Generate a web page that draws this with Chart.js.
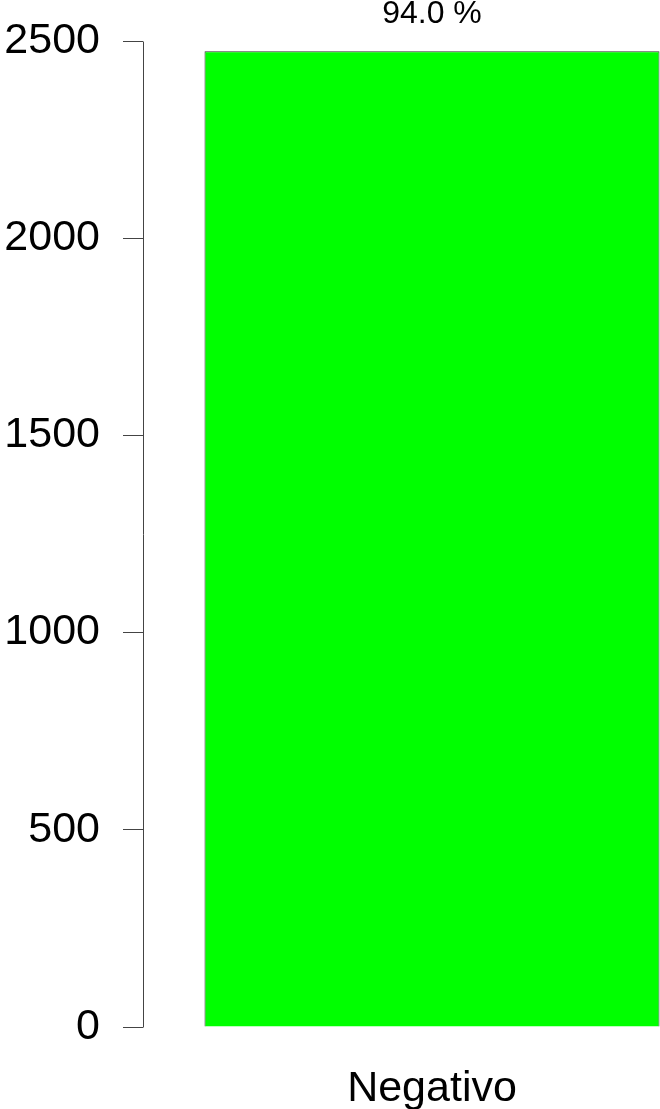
<!DOCTYPE html>
<html>
<head>
<meta charset="utf-8">
<script src="https://cdn.jsdelivr.net/npm/chart.js@4/dist/chart.umd.min.js"></script>
<style>
  html, body { margin: 0; padding: 0; background: #fff; }
  canvas { display: block; }
</style>
</head>
<body>
<canvas id="grafico" width="660" height="1109"></canvas>
<script>
// datos
const categorias = ['Negativo'];
const valores = [2474];
const etiquetasPct = ['94.0 %'];
const yTicks = [0, 500, 1000, 1500, 2000, 2500];

const fuente = "'Liberation Sans', Arial, Helvetica, sans-serif";

// etiqueta de porcentaje sobre la barra + línea del eje Y separada del área
const extrasPlugin = {
    id: 'extras',
    afterDatasetsDraw(chart) {
        const ctx = chart.ctx;
        const meta = chart.getDatasetMeta(0);
        const y = chart.scales.y;
        ctx.save();
        // eje Y (separado del área de la barra, estilo R)
        const xEje = Math.round(y.right - 61) + 0.5;
        ctx.strokeStyle = '#444444';
        ctx.lineWidth = 1;
        ctx.beginPath();
        ctx.moveTo(xEje, Math.round(y.getPixelForValue(yTicks[0])) + 0.5);
        ctx.lineTo(xEje, Math.round(y.getPixelForValue(yTicks[yTicks.length - 1])) + 0.5);
        ctx.stroke();

        ctx.font = '32px ' + fuente;
        ctx.fillStyle = '#000';
        ctx.textAlign = 'center';
        ctx.textBaseline = 'middle';
        meta.data.forEach((bar, i) => {
            ctx.fillText(etiquetasPct[i], bar.x, bar.y - 37);
        });
        ctx.restore();
    }
};

new Chart(document.getElementById('grafico'), {
    type: 'bar',
    data: {
        labels: categorias,
        datasets: [{
            data: valores,
            backgroundColor: '#00ff00',
            borderColor: '#333333',
            borderWidth: 1,
            categoryPercentage: 1,
            barPercentage: 0.9978
        }]
    },
    options: {
        responsive: false,
        animation: false,
        layout: { padding: { top: 41, right: 0, bottom: 0, left: 0 } },
        plugins: {
            legend: { display: false },
            tooltip: { enabled: false }
        },
        scales: {
            x: {
                afterFit: (scale) => { scale.height = 82; },
                grid: { display: false },
                border: { display: false },
                ticks: {
                    color: '#000',
                    font: { family: fuente, size: 43 },
                    padding: 28
                }
            },
            y: {
                min: 0,
                max: 2500,
                afterBuildTicks: (scale) => {
                    scale.ticks = yTicks.map(v => ({ value: v }));
                },
                afterFit: (scale) => {
                    scale.width = 204;
                    scale.paddingTop = 0;
                    scale.paddingBottom = 0;
                },
                grid: {
                    drawOnChartArea: false,
                    tickLength: 81,
                    tickBorderDash: [20, 200],
                    color: '#444444',
                    lineWidth: 1
                },
                border: { display: false },
                ticks: {
                    color: '#000',
                    font: { family: fuente, size: 43 },
                    padding: 23,
                    callback: (v) => String(v)
                }
            }
        }
    },
    plugins: [extrasPlugin]
});
</script>
</body>
</html>
